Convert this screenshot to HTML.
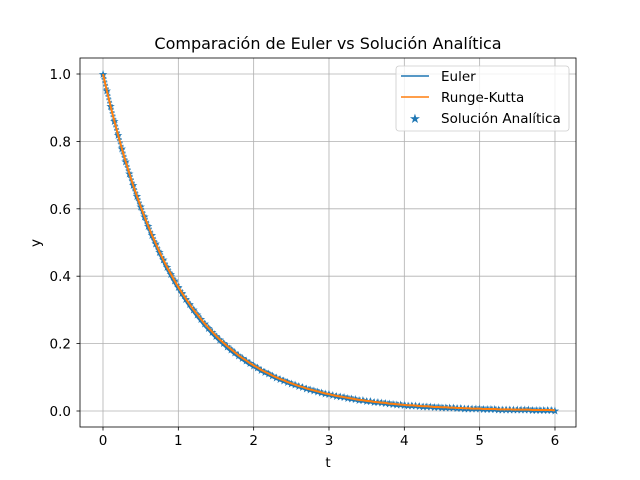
<!DOCTYPE html>
<html><head><meta charset="utf-8"><style>
body{margin:0;background:#fff}
svg{display:block;font-family:"DejaVu Sans","Liberation Sans",sans-serif}
</style></head><body>
<svg id="chart" width="640" height="480" viewBox="0 0 640 480">
<rect width="640" height="480" fill="#fff"/>
<g id="grid"></g>
<g id="series"></g>
<rect x="80" y="58" width="496" height="369" fill="none" stroke="#000" stroke-width="0.8"/>
<g id="ticks"></g>
<text x="328" y="49" text-anchor="middle" font-size="16">Comparación de Euler vs Solución Analítica</text>
<text x="328" y="467" text-anchor="middle" font-size="13.5">t</text>
<text x="40" y="243" text-anchor="middle" font-size="13.5" transform="rotate(-90 40 243)">y</text>
<g>
<rect x="396" y="66" width="173" height="65" rx="3" fill="#fff" fill-opacity="0.8" stroke="#ccc" stroke-width="0.8"/>
<line x1="401" y1="76" x2="429" y2="76" stroke="#1f77b4" stroke-width="1.5"/>
<text x="441" y="81" font-size="13.5">Euler</text>
<line x1="401" y1="97" x2="429" y2="97" stroke="#ff7f0e" stroke-width="1.5"/>
<text x="441" y="102" font-size="13.5">Runge-Kutta</text>
<text x="415" y="123" text-anchor="middle" font-size="13" fill="#1f77b4">★</text>
<text x="441" y="123" font-size="13.5">Solución Analítica</text>
</g>
</svg>
<script>
const tStart=0, tStep=0.05;
const analyticValues=[1.000,.951,.905,.861,.819,.779,.741,.705,.670,.638,.607,.577,.549,.522,.497,.472,.449,.427,.407,.387,.368,.350,.333,.317,.301,.287,.273,.259,.247,.235,.223,.212,.202,.192,.183,.174,.165,.157,.150,.142,.135,.129,.122,.116,.111,.105,.100,.095,.091,.086,.082,.078,.074,.071,.067,.064,.061,.058,.055,.052,.050,.047,.045,.043,.041,.039,.037,.035,.033,.032,.030,.029,.027,.026,.025,.024,.022,.021,.020,.019,.018,.017,.017,.016,.015,.014,.014,.013,.012,.012,.011,.011,.010,.010,.009,.009,.008,.008,.007,.007,.007,.006,.006,.006,.006,.005,.005,.005,.005,.004,.004,.004,.004,.004,.003,.003,.003,.003,.003,.003,.002];
const eulerValues=[1.000,.950,.903,.858,.815,.774,.735,.698,.663,.630,.599,.569,.540,.513,.488,.463,.440,.418,.397,.377,.358,.341,.324,.307,.292,.277,.264,.250,.238,.226,.215,.204,.194,.184,.175,.166,.158,.150,.142,.135,.129,.122,.116,.110,.105,.099,.094,.090,.085,.081,.077,.073,.070,.066,.063,.060,.057,.054,.051,.049,.046,.044,.042,.040,.038,.036,.034,.032,.031,.029,.028,.026,.025,.024,.023,.021,.020,.019,.018,.017,.017,.016,.015,.014,.013,.013,.012,.011,.011,.010,.010,.009,.009,.008,.008,.008,.007,.007,.006,.006,.006,.005,.005,.005,.005,.004,.004,.004,.004,.004,.003,.003,.003,.003,.003,.003,.003,.002,.002,.002,.002];
const rkValues=analyticValues.slice();
const xTicks=[0,1,2,3,4,5,6];
const yTicks=[0,0.2,0.4,0.6,0.8,1.0];
const yTickLabels=["0.0","0.2","0.4","0.6","0.8","1.0"];
const NS="http://www.w3.org/2000/svg";
const X=v=>103+v*75.33, Y=v=>411-v*337;
const T=i=>tStart+i*tStep;
function mk(tag,attrs,parent){const e=document.createElementNS(NS,tag);for(const k in attrs)e.setAttribute(k,attrs[k]);parent.appendChild(e);return e;}
const grid=document.getElementById('grid'),ticks=document.getElementById('ticks'),series=document.getElementById('series');
xTicks.forEach(v=>{
 const g=mk('line',{x1:X(v),x2:X(v),y1:58,y2:427,stroke:'#b0b0b0','stroke-width':0.8},grid);
 
 
 const t=mk('line',{x1:X(v),x2:X(v),y1:427,y2:430.5,stroke:'#000','stroke-width':0.8},ticks);
 
 
 const l=mk('text',{x:X(v),y:445,'text-anchor':'middle','font-size':13.5},ticks);l.textContent=v;
 
 
});
yTicks.forEach((v,i)=>{
 const g=mk('line',{x1:80,x2:576,y1:Y(v),y2:Y(v),stroke:'#b0b0b0','stroke-width':0.8},grid);
 
 
 const t=mk('line',{x1:76.5,x2:80,y1:Y(v),y2:Y(v),stroke:'#000','stroke-width':0.8},ticks);
 
 
 const l=mk('text',{x:71,y:Y(v)+5,'text-anchor':'end','font-size':13.5},ticks);l.textContent=yTickLabels[i];
 
 
});
const pts=a=>a.map((v,i)=>X(T(i))+','+Y(v)).join(' ');
const band=mk('polyline',{points:pts(analyticValues),fill:'none',stroke:'#1f77b4','stroke-width':5,'stroke-opacity':0.75,'stroke-dasharray':'2 1.5'},series);


analyticValues.forEach((v,i)=>{
 const s=mk('text',{x:X(T(i)),y:Y(v)+4,'text-anchor':'middle','font-size':11,fill:'#1f77b4'},series);s.textContent='★';
 
 
});
const e=mk('polyline',{points:pts(eulerValues),fill:'none',stroke:'#1f77b4','stroke-width':1.5},series);


const r=mk('polyline',{points:pts(rkValues),fill:'none',stroke:'#ff7f0e','stroke-width':2},series);


</script>
</body></html>
